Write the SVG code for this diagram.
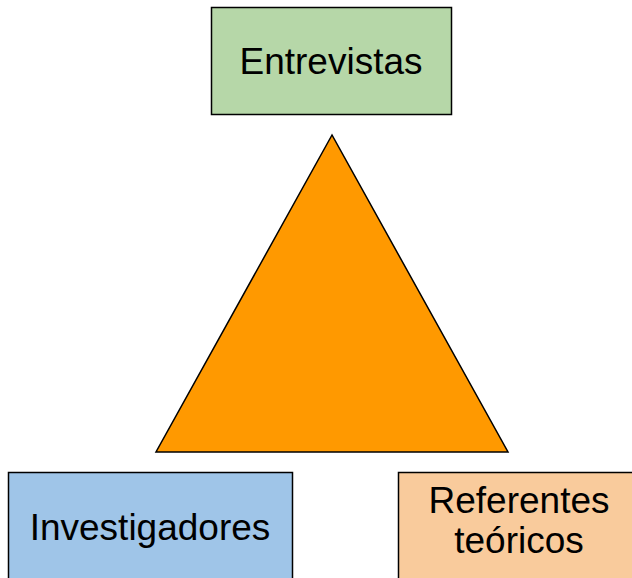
<svg xmlns="http://www.w3.org/2000/svg" width="632" height="578" viewBox="0 0 632 578">
<style>
.box{stroke:#000;stroke-width:1.5}
.lbl{font-family:"Liberation Sans",Arial,sans-serif;font-size:37px;fill:#000;text-anchor:middle}
</style>
<rect width="632" height="578" fill="#fff"/>
<g id="triangle">
<polygon points="332,135 156,452 508,452" fill="#ff9900" stroke="#000" stroke-width="1.5" stroke-linejoin="miter"/>
</g>
<g id="entrevistas">
<rect class="box" x="211.5" y="7.5" width="240" height="107" fill="#b6d7a8"/>
<text class="lbl" x="331" y="74">Entrevistas</text>
</g>
<g id="investigadores">
<rect class="box" x="8.5" y="472.5" width="284" height="120" fill="#9fc5e8"/>
<text class="lbl" x="150" y="540">Investigadores</text>
</g>
<g id="referentes">
<rect class="box" x="398.5" y="472.5" width="250" height="120" fill="#f9cb9c"/>
<text class="lbl" x="519" y="513">Referentes</text>
<text class="lbl" x="519" y="553">teóricos</text>
</g>
<g id="connectors"></g>
</svg>
